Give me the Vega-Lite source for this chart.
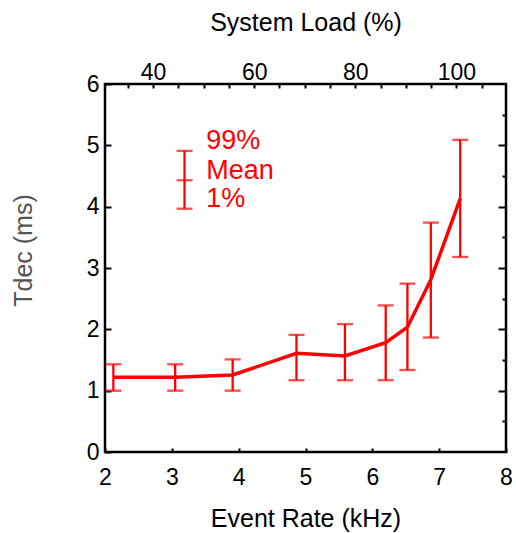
{
  "$schema": "https://vega.github.io/schema/vega-lite/v6.json",
  "width": 401,
  "height": 368,
  "autosize": {"type": "none"},
  "padding": {"left": 105, "top": 84, "right": 10, "bottom": 81},
  "background": "white",
  "config": {
    "font": "Liberation Sans",
    "view": {"stroke": "black", "strokeWidth": 2.5},
    "axis": {
      "domain": false,
      "grid": false,
      "labelFont": "Liberation Sans",
      "titleFont": "Liberation Sans",
      "labelColor": "black",
      "titleColor": "black",
      "titleFontWeight": "normal",
      "tickColor": "black",
      "tickWidth": 2,
      "labelFontSize": 23,
      "titleFontSize": 25
    }
  },
  "datasets": {
    "points": [
      {"rate": 2.125, "mean": 1.22, "lo": 1.0, "hi": 1.43},
      {"rate": 3.05, "mean": 1.22, "lo": 1.0, "hi": 1.43},
      {"rate": 3.91, "mean": 1.255, "lo": 1.0, "hi": 1.51},
      {"rate": 4.865, "mean": 1.61, "lo": 1.17, "hi": 1.91},
      {"rate": 5.59, "mean": 1.566, "lo": 1.17, "hi": 2.085},
      {"rate": 6.2, "mean": 1.784, "lo": 1.17, "hi": 2.39},
      {"rate": 6.525, "mean": 2.035, "lo": 1.337, "hi": 2.745},
      {"rate": 6.875, "mean": 2.81, "lo": 1.866, "hi": 3.74},
      {"rate": 7.315, "mean": 4.13, "lo": 3.18, "hi": 5.09}
    ],
    "legendBar": [
      {"rate": 3.19, "mean": 4.43, "lo": 3.967, "hi": 4.91}
    ],
    "legendText": [
      {"rate": 3.515, "y": 5.07, "label": "99%"},
      {"rate": 3.515, "y": 4.58, "label": "Mean"},
      {"rate": 3.515, "y": 4.12, "label": "1%"}
    ],
    "loadRange": [
      {"load": 30.5},
      {"load": 109.8}
    ]
  },
  "layer": [
    {
      "layer": [
        {
          "data": {"name": "points"},
          "mark": {"type": "line", "color": "#ff0000", "strokeWidth": 3.5},
          "encoding": {
            "x": {
              "field": "rate", "type": "quantitative",
              "scale": {"domain": [2, 8], "nice": false, "zero": false},
              "axis": {
                "orient": "bottom",
                "values": [2, 3, 4, 5, 6, 7, 8],
                "format": "d",
                "tickSize": -4,
                "labelFlush": false,
                "labelPadding": 18,
                "title": "Event Rate (kHz)",
                "titlePadding": 17
              }
            },
            "y": {
              "field": "mean", "type": "quantitative",
              "scale": {"domain": [0, 6], "nice": false, "zero": false},
              "axis": {
                "orient": "left",
                "values": [0, 0.5, 1, 1.5, 2, 2.5, 3, 3.5, 4, 4.5, 5, 5.5, 6],
                "labelExpr": "datum.value % 1 === 0 ? format(datum.value, 'd') : ''",
                "tickSize": {"condition": {"test": "datum.value % 1 === 0", "value": -6}, "value": -3},
                "labelPadding": 12,
                "title": "Tdec (ms)",
                "titleColor": "#555555",
                "titlePadding": 50,
                "titleY": 166
              }
            }
          }
        },
        {
          "data": {"name": "points"},
          "mark": {"type": "rule", "color": "#ff0000", "strokeWidth": 2.3},
          "encoding": {
            "x": {"field": "rate", "type": "quantitative"},
            "y": {"field": "lo", "type": "quantitative"},
            "y2": {"field": "hi"}
          }
        },
        {
          "data": {"name": "points"},
          "mark": {"type": "tick", "orient": "horizontal", "color": "#ff0000", "size": 16, "thickness": 2.3},
          "encoding": {
            "x": {"field": "rate", "type": "quantitative"},
            "y": {"field": "hi", "type": "quantitative"}
          }
        },
        {
          "data": {"name": "points"},
          "mark": {"type": "tick", "orient": "horizontal", "color": "#ff0000", "size": 16, "thickness": 2.3},
          "encoding": {
            "x": {"field": "rate", "type": "quantitative"},
            "y": {"field": "lo", "type": "quantitative"}
          }
        },
        {
          "data": {"name": "legendBar"},
          "mark": {"type": "rule", "color": "#ff0000", "strokeWidth": 2.3},
          "encoding": {
            "x": {"field": "rate", "type": "quantitative"},
            "y": {"field": "lo", "type": "quantitative"},
            "y2": {"field": "hi"}
          }
        },
        {
          "data": {"name": "legendBar"},
          "mark": {"type": "tick", "orient": "horizontal", "color": "#ff0000", "size": 16, "thickness": 2.3},
          "encoding": {
            "x": {"field": "rate", "type": "quantitative"},
            "y": {"field": "hi", "type": "quantitative"}
          }
        },
        {
          "data": {"name": "legendBar"},
          "mark": {"type": "tick", "orient": "horizontal", "color": "#ff0000", "size": 16, "thickness": 2.3},
          "encoding": {
            "x": {"field": "rate", "type": "quantitative"},
            "y": {"field": "mean", "type": "quantitative"}
          }
        },
        {
          "data": {"name": "legendBar"},
          "mark": {"type": "tick", "orient": "horizontal", "color": "#ff0000", "size": 16, "thickness": 2.3},
          "encoding": {
            "x": {"field": "rate", "type": "quantitative"},
            "y": {"field": "lo", "type": "quantitative"}
          }
        },
        {
          "data": {"name": "legendText"},
          "mark": {"type": "text", "color": "#ff0000", "fontSize": 27, "align": "left", "baseline": "middle", "font": "Liberation Sans"},
          "encoding": {
            "x": {"field": "rate", "type": "quantitative"},
            "y": {"field": "y", "type": "quantitative"},
            "text": {"field": "label"}
          }
        }
      ]
    },
    {
      "data": {"name": "points"},
      "mark": {"type": "point", "opacity": 0},
      "encoding": {
        "y": {
          "field": "mean", "type": "quantitative",
          "axis": {
            "orient": "right",
            "values": [0.5, 1, 1.5, 2, 2.5, 3, 3.5, 4, 4.5, 5, 5.5],
            "labels": false,
            "title": null,
            "tickSize": {"condition": {"test": "datum.value % 1 === 0", "value": -8}, "value": -4}
          }
        }
      }
    },
    {
      "data": {"name": "loadRange"},
      "mark": {"type": "point", "opacity": 0},
      "encoding": {
        "x": {
          "field": "load", "type": "quantitative",
          "scale": {"domain": [30.5, 109.8], "nice": false, "zero": false},
          "axis": {
            "orient": "top",
            "values": [35, 40, 45, 50, 55, 60, 65, 70, 75, 80, 85, 90, 95, 100, 105],
            "labelExpr": "datum.value % 20 === 0 ? datum.label : ''",
            "labelOverlap": false,
            "labelFlush": false,
            "tickSize": -4,
            "labelPadding": 4,
            "title": "System Load (%)",
            "titlePadding": 26
          }
        }
      }
    }
  ],
  "resolve": {"scale": {"x": "independent"}, "axis": {"x": "independent", "y": "independent"}}
}
